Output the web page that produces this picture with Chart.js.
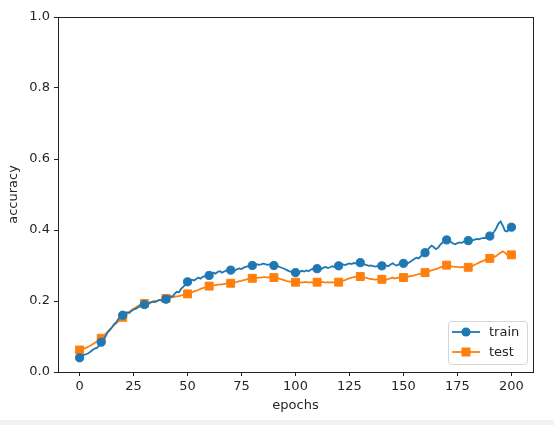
<!DOCTYPE html>
<html>
<head>
<meta charset="utf-8">
<script src="https://cdn.jsdelivr.net/npm/chart.js@4/dist/chart.umd.min.js"></script>
<style>
  html, body { margin: 0; padding: 0; background: #fff; }
  #wrap { position: relative; width: 554px; height: 425px; }
  #strip { position: absolute; left: 0; top: 420px; width: 554px; height: 5px; background: #f2f2f2; }
</style>
</head>
<body>
<div id="wrap">
  <canvas id="acc-chart" width="554" height="425"></canvas>
  <div id="strip"></div>
</div>
<script>
// epochs 0..200, markers every 10
const trainAcc = [
  0.040, 0.046, 0.048, 0.050, 0.053, 0.057, 0.062, 0.066, 0.068, 0.074,
  0.084, 0.092, 0.100, 0.112, 0.118, 0.126, 0.135, 0.140, 0.150, 0.155,
  0.160, 0.163, 0.168, 0.166, 0.172, 0.176, 0.178, 0.182, 0.186, 0.188,
  0.190, 0.193, 0.192, 0.196, 0.198, 0.197, 0.200, 0.203, 0.201, 0.204,
  0.205, 0.208, 0.214, 0.212, 0.220, 0.226, 0.224, 0.234, 0.240, 0.246,
  0.254, 0.256, 0.260, 0.258, 0.262, 0.266, 0.263, 0.268, 0.270, 0.268,
  0.272, 0.276, 0.280, 0.277, 0.282, 0.284, 0.280, 0.283, 0.286, 0.285,
  0.287, 0.288, 0.286, 0.290, 0.292, 0.290, 0.294, 0.296, 0.298, 0.299,
  0.300, 0.303, 0.304, 0.302, 0.303, 0.305, 0.304, 0.302, 0.303, 0.301,
  0.300, 0.302, 0.298, 0.295, 0.293, 0.290, 0.287, 0.284, 0.282, 0.280,
  0.280, 0.279, 0.282, 0.285, 0.283, 0.286, 0.284, 0.288, 0.290, 0.288,
  0.291, 0.292, 0.290, 0.294, 0.296, 0.293, 0.295, 0.298, 0.296, 0.299,
  0.299, 0.302, 0.303, 0.301, 0.304, 0.306, 0.304, 0.307, 0.306, 0.308,
  0.308, 0.306, 0.303, 0.301, 0.299, 0.300, 0.298, 0.297, 0.299, 0.298,
  0.299, 0.302, 0.300, 0.298, 0.303, 0.306, 0.302, 0.300, 0.304, 0.305,
  0.306, 0.308, 0.306, 0.310, 0.314, 0.318, 0.322, 0.320, 0.326, 0.330,
  0.336, 0.342, 0.350, 0.356, 0.352, 0.346, 0.350, 0.358, 0.364, 0.368,
  0.372, 0.370, 0.366, 0.362, 0.360, 0.363, 0.365, 0.364, 0.367, 0.368,
  0.370, 0.372, 0.371, 0.373, 0.375, 0.374, 0.376, 0.378, 0.377, 0.380,
  0.383, 0.388, 0.395, 0.405, 0.418, 0.424, 0.412, 0.398, 0.396, 0.402,
  0.408
];
const testAcc = [
  0.062, 0.064, 0.066, 0.068, 0.071, 0.074, 0.078, 0.082, 0.086, 0.090,
  0.095, 0.101, 0.107, 0.114, 0.120, 0.126, 0.132, 0.138, 0.143, 0.149,
  0.154, 0.160, 0.165, 0.170, 0.174, 0.178, 0.182, 0.186, 0.189, 0.191,
  0.193, 0.195, 0.196, 0.197, 0.199, 0.200, 0.201, 0.203, 0.204, 0.206,
  0.207, 0.208, 0.209, 0.211, 0.212, 0.213, 0.214, 0.216, 0.217, 0.219,
  0.220, 0.222, 0.224, 0.227, 0.229, 0.231, 0.234, 0.236, 0.238, 0.240,
  0.242, 0.243, 0.244, 0.245, 0.246, 0.246, 0.247, 0.248, 0.249, 0.249,
  0.250, 0.251, 0.253, 0.254, 0.256, 0.257, 0.259, 0.260, 0.262, 0.263,
  0.264, 0.264, 0.265, 0.266, 0.266, 0.267, 0.267, 0.266, 0.267, 0.266,
  0.266, 0.265, 0.264, 0.262, 0.260, 0.258, 0.256, 0.255, 0.254, 0.253,
  0.253, 0.252, 0.253, 0.252, 0.253, 0.254, 0.252, 0.253, 0.252, 0.253,
  0.253, 0.252, 0.254, 0.253, 0.252, 0.253, 0.252, 0.253, 0.252, 0.253,
  0.253, 0.255, 0.257, 0.259, 0.262, 0.264, 0.266, 0.267, 0.268, 0.269,
  0.269, 0.268, 0.266, 0.265, 0.263, 0.262, 0.261, 0.260, 0.261, 0.261,
  0.261, 0.262, 0.260, 0.262, 0.264, 0.266, 0.263, 0.265, 0.266, 0.265,
  0.266, 0.267, 0.268, 0.270, 0.271, 0.272, 0.274, 0.276, 0.277, 0.279,
  0.280, 0.282, 0.284, 0.286, 0.288, 0.290, 0.292, 0.295, 0.297, 0.299,
  0.301, 0.300, 0.298, 0.297, 0.296, 0.296, 0.295, 0.296, 0.295, 0.295,
  0.295, 0.297, 0.299, 0.302, 0.305, 0.308, 0.311, 0.313, 0.316, 0.318,
  0.320, 0.322, 0.324, 0.327, 0.332, 0.336, 0.340, 0.336, 0.330, 0.329,
  0.330
];
const xTicks = [0, 25, 50, 75, 100, 125, 150, 175, 200];
const yTicks = [0.0, 0.2, 0.4, 0.6, 0.8, 1.0];
const seriesNames = ['train', 'test'];

const BLUE = '#1f77b4';
const ORANGE = '#ff7f0e';
const FONT = { family: 'DejaVu Sans', size: 13 };

const markEvery = (r) => (ctx) => (ctx.dataIndex % 10 === 0 ? r : 0);

// box around the axes
const framePlugin = {
  id: 'frame',
  afterDatasetsDraw(chart) {
    const { ctx, chartArea: a } = chart;
    ctx.save();
    ctx.strokeStyle = '#222';
    ctx.lineWidth = 1;
    ctx.strokeRect(Math.round(a.left) + 0.5, Math.round(a.top) + 0.5,
      Math.round(a.right - a.left), Math.round(a.bottom - a.top));
    ctx.restore();
  }
};

// matplotlib-style legend, lower right
const legendPlugin = {
  id: 'mplLegend',
  afterDraw(chart) {
    const { ctx } = chart;
    const bx = 448, by = 321, bw = 79, bh = 43;
    ctx.save();
    ctx.beginPath();
    ctx.roundRect(bx + 0.5, by + 0.5, bw, bh, 3);
    ctx.fillStyle = 'rgba(255,255,255,0.8)';
    ctx.fill();
    ctx.strokeStyle = '#d5d5d5';
    ctx.lineWidth = 1;
    ctx.stroke();
    chart.data.datasets.forEach((ds, i) => {
      const y = 332 + i * 20;
      ctx.strokeStyle = ds.borderColor;
      ctx.lineWidth = 1.8;
      ctx.beginPath();
      ctx.moveTo(452, y);
      ctx.lineTo(480, y);
      ctx.stroke();
      ctx.fillStyle = ds.borderColor;
      if (ds.pointStyle === 'circle') {
        ctx.beginPath();
        ctx.arc(466, y, 4.6, 0, Math.PI * 2);
        ctx.fill();
      } else {
        ctx.fillRect(466 - 4.5, y - 4.5, 9, 9);
      }
      ctx.fillStyle = '#262626';
      ctx.font = `${FONT.size}px ${FONT.family}`;
      ctx.textBaseline = 'middle';
      ctx.fillText(ds.label, 489, y + 0.5);
    });
    ctx.restore();
  }
};

function buildDataset(label, values, color, style, radius) {
  return {
    label,
    data: values.map((v, i) => ({ x: i, y: v })),
    borderColor: color,
    backgroundColor: color,
    borderWidth: 1.8,
    tension: 0,
    pointStyle: style,
    pointRadius: markEvery(radius),
    pointHoverRadius: 0,
    pointBorderWidth: 1,
    pointBorderColor: color,
    pointBackgroundColor: color
  };
}

function renderChart() {
  const canvas = document.getElementById('acc-chart');
  new Chart(canvas.getContext('2d'), {
    type: 'line',
    data: {
      datasets: [
        buildDataset(seriesNames[0], trainAcc, BLUE, 'circle', 4.1),
        buildDataset(seriesNames[1], testAcc, ORANGE, 'rect', 5.6)
      ]
    },
    options: {
      responsive: false,
      animation: false,
      devicePixelRatio: 1,
      layout: { padding: { top: 17, right: 21, left: 0, bottom: 0 } },
      plugins: { legend: { display: false }, tooltip: { enabled: false } },
      scales: {
        x: {
          type: 'linear',
          min: -10,
          max: 210,
          afterBuildTicks: (s) => { s.ticks = xTicks.map(v => ({ value: v })); },
          afterFit: (s) => { s.height = 53; },
          ticks: { color: '#262626', font: FONT, padding: 3, maxRotation: 0, callback: (v) => String(v) },
          grid: { drawOnChartArea: false, drawTicks: true, tickLength: 4, color: '#222' },
          border: { display: false },
          title: { display: true, text: 'epochs', color: '#262626', font: FONT, padding: { top: 0, bottom: 12 } }
        },
        y: {
          min: 0,
          max: 1,
          afterBuildTicks: (s) => { s.ticks = yTicks.map(v => ({ value: v })); },
          afterFit: (s) => { s.width = 58; },
          ticks: { color: '#262626', font: FONT, padding: 4, callback: (v) => v.toFixed(1) },
          grid: { drawOnChartArea: false, drawTicks: true, tickLength: 4, color: '#222' },
          border: { display: false },
          title: { display: true, text: 'accuracy', color: '#262626', font: FONT, padding: { top: 6, bottom: 0 } }
        }
      }
    },
    plugins: [framePlugin, legendPlugin]
  });
}

document.addEventListener('DOMContentLoaded', renderChart);
</script>
</body>
</html>
